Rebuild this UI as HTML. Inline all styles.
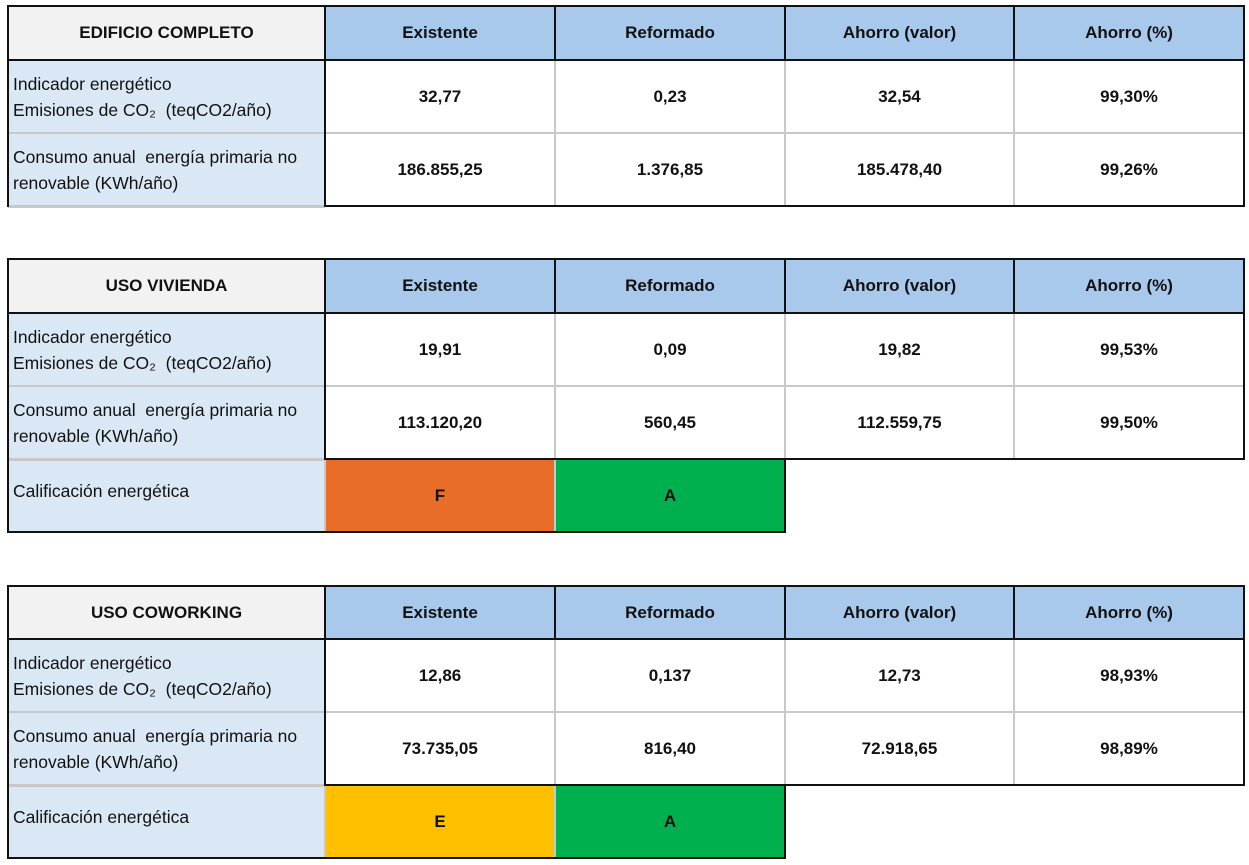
<!DOCTYPE html>
<html><head><meta charset="utf-8"><style>
body{margin:0;width:1249px;height:865px;background:#fff;position:relative;overflow:hidden;font-family:"Liberation Sans",Arial,sans-serif;color:#111}
.c{position:absolute;display:flex;align-items:center;justify-content:center;font-weight:bold;font-size:17px;box-sizing:border-box}
.l{position:absolute;display:flex;align-items:center;font-size:17.5px;padding-left:5px;box-sizing:border-box;background:#dae8f6;line-height:26px}
.h{background:#a9c9ec}
.g{background:#f2f2f2}
.b{position:absolute;background:#111}
.gr{position:absolute;background:#c8c8c8}
</style></head><body>

<!-- Table 1 -->
<div class="c g" style="left:8px;top:6px;width:317px;height:54px">EDIFICIO COMPLETO</div>
<div class="c h" style="left:325px;top:6px;width:230px;height:54px">Existente</div>
<div class="c h" style="left:555px;top:6px;width:230px;height:54px">Reformado</div>
<div class="c h" style="left:785px;top:6px;width:229px;height:54px">Ahorro (valor)</div>
<div class="c h" style="left:1014px;top:6px;width:230px;height:54px">Ahorro (%)</div>
<div class="l" style="left:8px;top:60px;width:317px;height:73px">Indicador energético<br>Emisiones de CO₂ &nbsp;(teqCO2/año)</div>
<div class="c" style="left:325px;top:60px;width:230px;height:73px">32,77</div>
<div class="c" style="left:555px;top:60px;width:230px;height:73px">0,23</div>
<div class="c" style="left:785px;top:60px;width:229px;height:73px">32,54</div>
<div class="c" style="left:1014px;top:60px;width:230px;height:73px">99,30%</div>
<div class="l" style="left:8px;top:133px;width:317px;height:73px">Consumo anual &nbsp;energía primaria no<br>renovable (KWh/año)</div>
<div class="c" style="left:325px;top:133px;width:230px;height:73px">186.855,25</div>
<div class="c" style="left:555px;top:133px;width:230px;height:73px">1.376,85</div>
<div class="c" style="left:785px;top:133px;width:229px;height:73px">185.478,40</div>
<div class="c" style="left:1014px;top:133px;width:230px;height:73px">99,26%</div>
<div class="gr" style="left:8px;top:132px;width:1236px;height:2px"></div>
<div class="gr" style="left:8px;top:205px;width:317px;height:3px"></div>
<div class="gr" style="left:554px;top:60px;width:2px;height:146px"></div>
<div class="gr" style="left:784px;top:60px;width:2px;height:146px"></div>
<div class="gr" style="left:1013px;top:60px;width:2px;height:146px"></div>
<div class="b" style="left:7px;top:5px;width:1238px;height:2px"></div>
<div class="b" style="left:7px;top:59px;width:1238px;height:2px"></div>
<div class="b" style="left:7px;top:5px;width:2px;height:202px"></div>
<div class="b" style="left:1243px;top:5px;width:2px;height:202px"></div>
<div class="b" style="left:324px;top:5px;width:2px;height:202px"></div>
<div class="b" style="left:554px;top:5px;width:2px;height:55px"></div>
<div class="b" style="left:784px;top:5px;width:2px;height:55px"></div>
<div class="b" style="left:1013px;top:5px;width:2px;height:55px"></div>
<div class="b" style="left:324px;top:205px;width:921px;height:2px"></div>

<!-- Table 2 -->
<div class="c g" style="left:8px;top:259px;width:317px;height:54px">USO VIVIENDA</div>
<div class="c h" style="left:325px;top:259px;width:230px;height:54px">Existente</div>
<div class="c h" style="left:555px;top:259px;width:230px;height:54px">Reformado</div>
<div class="c h" style="left:785px;top:259px;width:229px;height:54px">Ahorro (valor)</div>
<div class="c h" style="left:1014px;top:259px;width:230px;height:54px">Ahorro (%)</div>
<div class="l" style="left:8px;top:313px;width:317px;height:73px">Indicador energético<br>Emisiones de CO₂ &nbsp;(teqCO2/año)</div>
<div class="c" style="left:325px;top:313px;width:230px;height:73px">19,91</div>
<div class="c" style="left:555px;top:313px;width:230px;height:73px">0,09</div>
<div class="c" style="left:785px;top:313px;width:229px;height:73px">19,82</div>
<div class="c" style="left:1014px;top:313px;width:230px;height:73px">99,53%</div>
<div class="l" style="left:8px;top:386px;width:317px;height:73px">Consumo anual &nbsp;energía primaria no<br>renovable (KWh/año)</div>
<div class="c" style="left:325px;top:386px;width:230px;height:73px">113.120,20</div>
<div class="c" style="left:555px;top:386px;width:230px;height:73px">560,45</div>
<div class="c" style="left:785px;top:386px;width:229px;height:73px">112.559,75</div>
<div class="c" style="left:1014px;top:386px;width:230px;height:73px">99,50%</div>
<div class="l" style="left:8px;top:459px;width:317px;height:73px;padding-bottom:10px">Calificación energética</div>
<div class="c" style="left:325px;top:459px;width:230px;height:73px;background:#e96c28">F</div>
<div class="c" style="left:555px;top:459px;width:230px;height:73px;background:#00b04f">A</div>
<div class="gr" style="left:8px;top:385px;width:1236px;height:2px"></div>
<div class="gr" style="left:8px;top:458px;width:317px;height:3px"></div>
<div class="gr" style="left:554px;top:313px;width:2px;height:219px"></div>
<div class="gr" style="left:784px;top:313px;width:2px;height:146px"></div>
<div class="gr" style="left:1013px;top:313px;width:2px;height:146px"></div>
<div class="gr" style="left:324px;top:459px;width:2px;height:73px"></div>
<div class="b" style="left:7px;top:258px;width:1238px;height:2px"></div>
<div class="b" style="left:7px;top:312px;width:1238px;height:2px"></div>
<div class="b" style="left:7px;top:258px;width:2px;height:275px"></div>
<div class="b" style="left:1243px;top:258px;width:2px;height:202px"></div>
<div class="b" style="left:324px;top:258px;width:2px;height:201px"></div>
<div class="b" style="left:554px;top:258px;width:2px;height:55px"></div>
<div class="b" style="left:784px;top:258px;width:2px;height:55px"></div>
<div class="b" style="left:1013px;top:258px;width:2px;height:55px"></div>
<div class="b" style="left:324px;top:458px;width:921px;height:2px"></div>
<div class="b" style="left:784px;top:458px;width:2px;height:75px"></div>
<div class="b" style="left:7px;top:531px;width:779px;height:2px"></div>

<!-- Table 3 -->
<div class="c g" style="left:8px;top:586px;width:317px;height:53px">USO COWORKING</div>
<div class="c h" style="left:325px;top:586px;width:230px;height:53px">Existente</div>
<div class="c h" style="left:555px;top:586px;width:230px;height:53px">Reformado</div>
<div class="c h" style="left:785px;top:586px;width:229px;height:53px">Ahorro (valor)</div>
<div class="c h" style="left:1014px;top:586px;width:230px;height:53px">Ahorro (%)</div>
<div class="l" style="left:8px;top:639px;width:317px;height:73px">Indicador energético<br>Emisiones de CO₂ &nbsp;(teqCO2/año)</div>
<div class="c" style="left:325px;top:639px;width:230px;height:73px">12,86</div>
<div class="c" style="left:555px;top:639px;width:230px;height:73px">0,137</div>
<div class="c" style="left:785px;top:639px;width:229px;height:73px">12,73</div>
<div class="c" style="left:1014px;top:639px;width:230px;height:73px">98,93%</div>
<div class="l" style="left:8px;top:712px;width:317px;height:73px">Consumo anual &nbsp;energía primaria no<br>renovable (KWh/año)</div>
<div class="c" style="left:325px;top:712px;width:230px;height:73px">73.735,05</div>
<div class="c" style="left:555px;top:712px;width:230px;height:73px">816,40</div>
<div class="c" style="left:785px;top:712px;width:229px;height:73px">72.918,65</div>
<div class="c" style="left:1014px;top:712px;width:230px;height:73px">98,89%</div>
<div class="l" style="left:8px;top:785px;width:317px;height:73px;padding-bottom:10px">Calificación energética</div>
<div class="c" style="left:325px;top:785px;width:230px;height:73px;background:#ffc000">E</div>
<div class="c" style="left:555px;top:785px;width:230px;height:73px;background:#00b04f">A</div>
<div class="gr" style="left:8px;top:711px;width:1236px;height:2px"></div>
<div class="gr" style="left:8px;top:784px;width:317px;height:3px"></div>
<div class="gr" style="left:554px;top:639px;width:2px;height:219px"></div>
<div class="gr" style="left:784px;top:639px;width:2px;height:146px"></div>
<div class="gr" style="left:1013px;top:639px;width:2px;height:146px"></div>
<div class="gr" style="left:324px;top:785px;width:2px;height:73px"></div>
<div class="b" style="left:7px;top:585px;width:1238px;height:2px"></div>
<div class="b" style="left:7px;top:638px;width:1238px;height:2px"></div>
<div class="b" style="left:7px;top:585px;width:2px;height:274px"></div>
<div class="b" style="left:1243px;top:585px;width:2px;height:201px"></div>
<div class="b" style="left:324px;top:585px;width:2px;height:200px"></div>
<div class="b" style="left:554px;top:585px;width:2px;height:54px"></div>
<div class="b" style="left:784px;top:585px;width:2px;height:54px"></div>
<div class="b" style="left:1013px;top:585px;width:2px;height:54px"></div>
<div class="b" style="left:324px;top:784px;width:921px;height:2px"></div>
<div class="b" style="left:784px;top:784px;width:2px;height:75px"></div>
<div class="b" style="left:7px;top:857px;width:779px;height:2px"></div>
</body></html>
